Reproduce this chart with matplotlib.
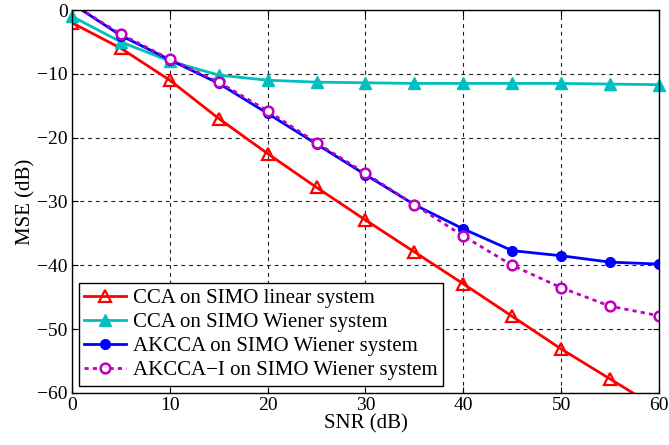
import matplotlib
matplotlib.use("Agg")
import matplotlib.pyplot as plt

snr = [0, 5, 10, 15, 20, 25, 30, 35, 40, 45, 50, 55, 60]
cca_linear = [-2.0, -6.0, -11.0, -17.0, -22.5, -27.8, -32.9, -37.9, -42.9, -48.0, -53.1, -57.8, -62.5]
cca_wiener = [-1.0, -5.0, -8.0, -10.2, -11.0, -11.3, -11.4, -11.5, -11.5, -11.5, -11.5, -11.6, -11.7]
akcca_wiener = [1.0, -4.0, -7.8, -11.5, -16.2, -21.0, -25.8, -30.5, -34.3, -37.7, -38.5, -39.5, -39.8]
akcca_i_wiener = [1.0, -3.8, -7.7, -11.3, -15.8, -20.8, -25.6, -30.5, -35.4, -40.0, -43.5, -46.4, -47.9]

x_ticks = [0, 10, 20, 30, 40, 50, 60]
y_ticks = [-60, -50, -40, -30, -20, -10, 0]
y_tick_labels = ['\u221260', '\u221250', '\u221240', '\u221230', '\u221220', '\u221210', '0']

plt.rcParams['font.family'] = ['Liberation Serif', 'DejaVu Serif']

fig = plt.figure(figsize=(6.69, 4.45), dpi=100)
ax = fig.add_axes([0.1076, 0.1169, 0.8774, 0.8606])

ax.plot(snr, cca_linear, color='#ff0000', lw=2, marker='^', ms=8,
        mfc='none', mew=1.6, label='CCA on SIMO linear system')
ax.plot(snr, cca_wiener, color='#00bfbf', lw=2, marker='^', ms=8,
        mfc='#00bfbf', label='CCA on SIMO Wiener system', clip_on=False)
ax.plot(snr, akcca_wiener, color='#0000ff', lw=2, marker='o', ms=7,
        mfc='#0000ff', label='AKCCA on SIMO Wiener system')
ax.plot(snr, akcca_i_wiener, color='#bf00bf', lw=2, ls=(0, (1.5, 1.5)), marker='o', ms=7,
        mfc='white', mew=1.8, label='AKCCA\u2212I on SIMO Wiener system')

ax.set_xlim(0, 60)
ax.set_ylim(-60, 0)
ax.set_xticks(x_ticks)
ax.set_yticks(y_ticks)
ax.set_yticklabels(y_tick_labels)
ax.tick_params(direction='in', labelsize=14, top=True, right=True, length=4, pad=3)
ax.grid(True, color='#222222', ls=(0, (3.5, 3.5)), lw=0.8)
ax.set_xlabel('SNR (dB)', fontsize=15, labelpad=0)
ax.set_ylabel('MSE (dB)', fontsize=15, labelpad=1)
for s in ax.spines.values():
    s.set_linewidth(1.0)

leg = ax.legend(loc='lower left', fontsize=15, fancybox=False, framealpha=1,
                edgecolor='black', borderpad=0.25, labelspacing=0.22,
                handlelength=2.0, handletextpad=0.35, borderaxespad=0.35)
leg.get_frame().set_linewidth(1.0)

fig.savefig('out.png', dpi=100)
